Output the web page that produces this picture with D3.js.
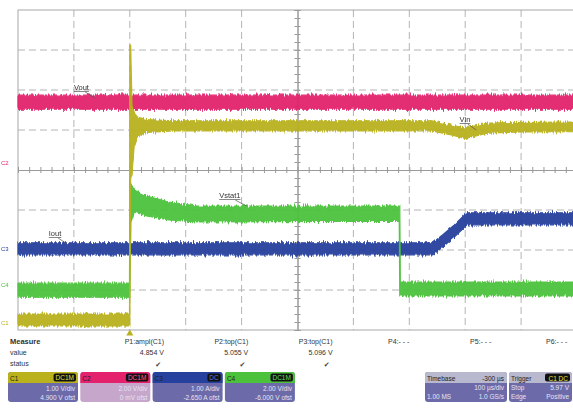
<!DOCTYPE html>
<html><head><meta charset="utf-8">
<script src="https://cdn.jsdelivr.net/npm/d3@7"></script>
<style>
body{margin:0;background:#fff;overflow:hidden;}
svg{display:block;font-family:"Liberation Sans",Arial,sans-serif;}
</style>
</head><body>
<svg id="c" width="573" height="419"></svg>
<script>
// ---- data (time in µs relative to trigger, amplitude in screen divisions) ----
const timeDomain = [-200, 800];
const divDomain = [-4, 4];

const voutT  = [-200, 800];
const voutHi = [1.87, 1.87];
const voutLo = [1.52, 1.52];

const vinT  = [-200, -0.5, 0, 1.5, 4, 8, 14, 30, 80, 540, 575, 600, 640, 700, 800];
const vinHi = [-3.6, -3.6, 3.12, 3.12, 1.6, 1.42, 1.32, 1.26, 1.23, 1.23, 1.12, 1.05, 1.17, 1.19, 1.2];
const vinLo = [-3.9, -3.9, -3.9, -0.2, -0.1, 0.6, 0.85, 0.94, 0.98, 0.98, 0.88, 0.79, 0.92, 0.95, 0.96];

const vstatT  = [-200, -0.5, 0, 2, 8, 30, 70, 120, 482, 483, 484, 800];
const vstatHi = [-2.83, -2.83, -0.3, -0.35, -0.5, -0.65, -0.8, -0.9, -0.9, -0.9, -2.8, -2.8];
const vstatLo = [-3.18, -3.18, -3.18, -1.3, -1.05, -1.15, -1.25, -1.3, -1.28, -3.15, -3.15, -3.15];

const ioutT  = [-200, 542, 560, 580, 603, 800];
const ioutHi = [-1.82, -1.82, -1.62, -1.38, -1.07, -1.07];
const ioutLo = [-2.12, -2.12, -1.92, -1.68, -1.37, -1.37];

const traceLabels = ["Vout", "Vin", "Vstat1", "Iout"];
const labelT   = [-100, 590, 160, -145];
const labelDiv = [2.0, 1.2, -0.7, -1.65];

const markerNames = ["C2", "C3", "C4", "C1"];
const markerDiv   = [0.18, -1.95, -2.85, -3.8];

const measureNames  = ["P1:ampl(C1)", "P2:top(C1)", "P3:top(C1)", "P4:- - -", "P5:- - -", "P6:- - -"];
const measureValues = ["4.854 V", "5.055 V", "5.096 V", "", "", ""];
const measureOk     = [true, true, true, false, false, false];

const chNames    = ["C1", "C2", "C3", "C4"];
const chCoupling = ["DC1M", "DC1M", "DC", "DC1M"];
const chScale    = ["1.00 V/div", "2.00 V/div", "1.00 A/div", "2.00 V/div"];
const chOffset   = ["4.900 V ofst", "0 mV ofst", "-2.650 A ofst", "-6.000 V ofst"];

const timebaseRows = [["Timebase", "-300 µs"], ["", "100 µs/div"], ["1.00 MS", "1.0 GS/s"]];
const triggerRows  = [["Trigger", "C1 DC"], ["Stop", "5.97 V"], ["Edge", "Positive"]];

// ---- styles ----
const colPink = "#e3216d", colYellow = "#b9b21c", colGreen = "#4cc23c", colBlue = "#26409e";
const chColors = [colYellow, colPink, colBlue, colGreen];
const chBadgeText = ["#e8e040", "#ff5a9a", "#5a78e0", "#60e060"];
const chBody = ["#6c6aa9", "#c6a6cb", "#6c6aa9", "#6c6aa9"];

const svg = d3.select("#c");
const L = 18, R = 577, T = 10, B = 330;
const x = d3.scaleLinear().domain(timeDomain).range([L, R]);
const y = d3.scaleLinear().domain(divDomain).range([B, T]);

// texture filter for the trace bands (vertical jitter only)
const defs = svg.append("defs");
const f = defs.append("filter").attr("id", "jit").attr("filterUnits", "userSpaceOnUse")
  .attr("x", 0).attr("y", 0).attr("width", 573).attr("height", 335);
f.append("feTurbulence").attr("type", "fractalNoise").attr("baseFrequency", "0.9 0.06")
  .attr("numOctaves", 2).attr("seed", 7).attr("result", "n");
f.append("feColorMatrix").attr("in", "n").attr("type", "matrix")
  .attr("values", "0 0 0 0 0.5  0 1 0 0 0  0 0 0 0 0  0 0 0 0 1").attr("result", "m");
f.append("feDisplacementMap").attr("in", "SourceGraphic").attr("in2", "m")
  .attr("scale", 6).attr("xChannelSelector", "R").attr("yChannelSelector", "G");

svg.append("rect").attr("width", 573).attr("height", 419).attr("fill", "#fff");

// grid
const g = svg.append("g");
const xGrid = d3.range(-100, 800, 100).filter(v => v !== 300);
const yGrid = d3.range(-3, 4, 1).filter(v => v !== 0);
g.selectAll(".vg").data(xGrid).enter().append("line")
  .attr("x1", d => x(d)).attr("x2", d => x(d)).attr("y1", T).attr("y2", B)
  .attr("stroke", "#b4b4b4").attr("stroke-width", 1).attr("stroke-dasharray", "7,4");
g.selectAll(".hg").data(yGrid).enter().append("line")
  .attr("x1", L).attr("x2", R).attr("y1", d => y(d)).attr("y2", d => y(d))
  .attr("stroke", "#b4b4b4").attr("stroke-width", 1).attr("stroke-dasharray", "7,4");

// border
g.append("rect").attr("x", L).attr("y", T).attr("width", R - L).attr("height", B - T)
  .attr("fill", "none").attr("stroke", "#a8a8a8").attr("stroke-width", 1);

// center axes with minor ticks
const minorX = d3.range(-200, 801, 20);
const minorY = d3.range(-4, 4.01, 0.2);
const axT = d3.axisTop(x).tickValues(minorX).tickSize(3).tickFormat("");
const axB = d3.axisBottom(x).tickValues(minorX).tickSize(3).tickFormat("");
const axL = d3.axisLeft(y).tickValues(minorY).tickSize(3).tickFormat("");
const axR = d3.axisRight(y).tickValues(minorY).tickSize(3).tickFormat("");
[axT, axB].forEach(a => g.append("g").attr("transform", `translate(0,${y(0)})`).call(a));
[axL, axR].forEach(a => g.append("g").attr("transform", `translate(${x(300)},0)`).call(a));
g.selectAll(".domain").attr("stroke", "#9a9a9a").attr("stroke-width", 1);
g.selectAll(".tick line").attr("stroke", "#9a9a9a");

// traces
const area = d3.area().x(d => x(d.t)).y0(d => y(d.lo)).y1(d => y(d.hi));
function rows(t, hi, lo) { return t.map((v, i) => ({ t: v, hi: hi[i], lo: lo[i] })); }
const traces = [
  [rows(voutT, voutHi, voutLo), colPink],
  [rows(ioutT, ioutHi, ioutLo), colBlue],
  [rows(vstatT, vstatHi, vstatLo), colGreen],
  [rows(vinT, vinHi, vinLo), colYellow]
];
const tg = svg.append("g").attr("filter", "url(#jit)");
traces.forEach(([d, c]) => {
  tg.append("path").datum(d).attr("d", area).attr("fill", c)
    .attr("stroke", c).attr("stroke-width", 1.2).attr("stroke-linejoin", "round")
    .attr("opacity", 0.95);
});

// trace labels
const lg = svg.append("g").attr("font-size", 7.5).attr("fill", "#333");
traceLabels.forEach((s, i) => {
  const lx = x(labelT[i]), ly = y(labelDiv[i]);
  const t = lg.append("text").attr("x", lx).attr("y", ly).text(s);
  const w = t.node().getComputedTextLength();
  lg.append("line").attr("x1", lx).attr("x2", lx + w).attr("y1", ly + 1.5).attr("y2", ly + 1.5)
    .attr("stroke", "#555").attr("stroke-width", 0.7);
  lg.append("line").attr("x1", lx + w * 0.75).attr("x2", lx + w + 6).attr("y1", ly + 2).attr("y2", ly + 8)
    .attr("stroke", "#555").attr("stroke-width", 0.7);
});

// channel markers at left
svg.append("g").selectAll("text").data(markerNames).enter().append("text")
  .attr("x", 1).attr("y", (d, i) => y(markerDiv[i]) + 2.5)
  .attr("font-size", 6).attr("fill", (d, i) => chColors[chNames.indexOf(d)])
  .text(d => d);

// trigger position marker
svg.append("path")
  .attr("d", d3.symbol().type(d3.symbolTriangle).size(22)())
  .attr("transform", `translate(${x(0)},${B + 3.5})`).attr("fill", colYellow);

// measurements
const mg = svg.append("g").attr("font-size", 7).attr("fill", "#333");
mg.append("text").attr("x", 10).attr("y", 344).attr("font-weight", "bold").attr("font-size", 7.5).text("Measure");
mg.append("text").attr("x", 10).attr("y", 355).text("value");
mg.append("text").attr("x", 10).attr("y", 366).text("status");
const emptyX = [388, 470, 546];
measureNames.forEach((s, i) => {
  const rx = 164 + i * 84.3;
  mg.append("text").attr("x", i < 3 ? rx : emptyX[i - 3]).attr("y", 344)
    .attr("text-anchor", i < 3 ? "end" : "start").text(s);
  if (measureValues[i]) mg.append("text").attr("x", rx).attr("y", 355).attr("text-anchor", "end").text(measureValues[i]);
  if (measureOk[i]) mg.append("text").attr("x", rx - 3).attr("y", 367).attr("text-anchor", "end")
    .attr("font-family", "DejaVu Sans").attr("font-size", 7).attr("fill", "#444").text("✔");
});

// channel boxes
const bg = svg.append("g").attr("font-size", 6.5);
chNames.forEach((n, i) => {
  const bx = 8 + i * 72.3, bw = 70, by = 372, bh = 30, hh = 11;
  const gg = bg.append("g");
  gg.append("rect").attr("x", bx).attr("y", by).attr("width", bw).attr("height", bh).attr("rx", 3).attr("fill", chBody[i]);
  gg.append("path").attr("d", `M${bx},${by + hh}V${by + 3}Q${bx},${by} ${bx + 3},${by}H${bx + bw - 3}Q${bx + bw},${by} ${bx + bw},${by + 3}V${by + hh}Z`).attr("fill", chColors[i]);
  gg.append("text").attr("x", bx + 2).attr("y", by + 8.5).attr("fill", "#222").text(n);
  const bwid = chCoupling[i].length * 4.6 + 4;
  gg.append("rect").attr("x", bx + bw - bwid - 2).attr("y", by + 1.5).attr("width", bwid).attr("height", 8).attr("rx", 2).attr("fill", "#111");
  gg.append("text").attr("x", bx + bw - 4).attr("y", by + 8.3).attr("text-anchor", "end").attr("fill", chBadgeText[i]).text(chCoupling[i]);
  gg.append("text").attr("x", bx + bw - 3).attr("y", by + 19).attr("text-anchor", "end").attr("fill", "#e4e4f4").text(chScale[i]);
  gg.append("text").attr("x", bx + bw - 3).attr("y", by + 27.5).attr("text-anchor", "end").attr("fill", "#e4e4f4").text(chOffset[i]);
});

// timebase & trigger boxes
function infoBox(bx, bw, rowsData, badge) {
  const by = 372, bh = 30, hh = 11;
  const gg = bg.append("g");
  gg.append("rect").attr("x", bx).attr("y", by).attr("width", bw).attr("height", bh).attr("rx", 3).attr("fill", "#6c6aa9");
  gg.append("path").attr("d", `M${bx},${by + hh}V${by + 3}Q${bx},${by} ${bx + 3},${by}H${bx + bw - 3}Q${bx + bw},${by} ${bx + bw},${by + 3}V${by + hh}Z`).attr("fill", "#b8b8cf");
  rowsData.forEach((r, j) => {
    const yy = by + 8.5 + j * 9.3;
    const c = j === 0 ? "#222" : "#e4e4f4";
    if (r[0]) gg.append("text").attr("x", bx + 2).attr("y", yy).attr("fill", c).text(r[0]);
    if (j === 0 && badge) {
      gg.append("rect").attr("x", bx + bw - 27).attr("y", by + 1.5).attr("width", 25).attr("height", 8).attr("rx", 2).attr("fill", "#111");
      gg.append("text").attr("x", bx + bw - 4).attr("y", yy).attr("text-anchor", "end").attr("fill", "#e8e040").text(r[1]);
    } else if (r[1]) gg.append("text").attr("x", bx + bw - 3).attr("y", yy).attr("text-anchor", "end").attr("fill", c).text(r[1]);
  });
}
infoBox(425, 82, timebaseRows, false);
infoBox(509, 63, triggerRows, true);
</script>
</body></html>
